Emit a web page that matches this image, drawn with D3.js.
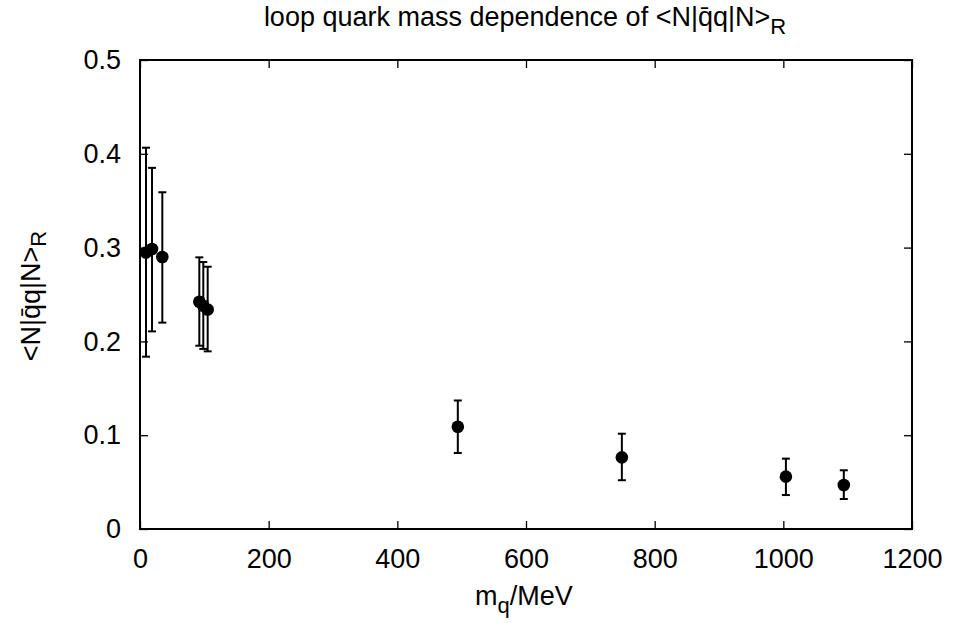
<!DOCTYPE html>
<html><head><meta charset="utf-8">
<script src="https://cdn.jsdelivr.net/npm/d3@7"></script>
<style>body{margin:0;background:#fff}svg{display:block}text{font-family:"Liberation Sans",Arial,sans-serif;fill:#000}</style>
</head><body>
<svg id="c" width="953" height="623"></svg>
<script>
const massX = [9.3, 18.7, 34.7, 92.2, 98.4, 105.2, 494, 749, 1004, 1094];
const valueY = [0.2946, 0.2985, 0.290, 0.2423, 0.238, 0.234, 0.109, 0.0764, 0.0558, 0.0469];
const errLow = [0.1837, 0.2107, 0.220, 0.1954, 0.192, 0.1894, 0.081, 0.052, 0.0362, 0.032];
const errHigh = [0.4065, 0.385, 0.359, 0.2896, 0.2846, 0.2796, 0.137, 0.1016, 0.075, 0.0626];
const xTicks = [0, 200, 400, 600, 800, 1000, 1200];
const yTicks = [0, 0.1, 0.2, 0.3, 0.4, 0.5];
const yTickLabels = ["0", "0.1", "0.2", "0.3", "0.4", "0.5"];

const svg = d3.select("#c");
const L = 140, R = 912, T = 60, B = 529;
const x = d3.scaleLinear().domain([0, 1200]).range([L, R]);
const y = d3.scaleLinear().domain([0, 0.5]).range([B, T]);
const fs = 27, sfs = 22, tl = 8;

// ticks (inward, mirrored)
const gb = svg.append("g").attr("transform", `translate(0,${B})`)
  .call(d3.axisBottom(x).tickValues(xTicks).tickSize(-tl).tickPadding(20).tickFormat(d3.format("d")));
const gt = svg.append("g").attr("transform", `translate(0,${T})`)
  .call(d3.axisTop(x).tickValues(xTicks).tickSize(-tl).tickFormat(""));
const gl = svg.append("g").attr("transform", `translate(${L},0)`)
  .call(d3.axisLeft(y).tickValues(yTicks).tickSize(-tl).tickPadding(19).tickFormat((d, i) => yTickLabels[i]));
const gr = svg.append("g").attr("transform", `translate(${R},0)`)
  .call(d3.axisRight(y).tickValues(yTicks).tickSize(-tl).tickFormat(""));
[gb, gt, gl, gr].forEach(g => {
  g.select(".domain").remove();
  g.selectAll("line").attr("stroke", "#000").attr("stroke-width", 1.3);
  g.selectAll("text").attr("font-size", fs).attr("font-family", "Liberation Sans, Arial, sans-serif").attr("fill", "#000");
});
// frame
svg.append("rect").attr("x", L).attr("y", T).attr("width", R - L).attr("height", B - T)
  .attr("fill", "none").attr("stroke", "#000").attr("stroke-width", 2);

// error bars
const data = massX.map((m, i) => ({m, v: valueY[i], lo: errLow[i], hi: errHigh[i]}));
const eb = svg.append("g").attr("stroke", "#000").attr("stroke-width", 2);
data.forEach(d => {
  eb.append("line").attr("x1", x(d.m)).attr("x2", x(d.m)).attr("y1", y(d.lo)).attr("y2", y(d.hi));
  eb.append("line").attr("x1", x(d.m) - 4).attr("x2", x(d.m) + 4).attr("y1", y(d.lo)).attr("y2", y(d.lo));
  eb.append("line").attr("x1", x(d.m) - 4).attr("x2", x(d.m) + 4).attr("y1", y(d.hi)).attr("y2", y(d.hi));
});
svg.append("g").selectAll("circle").data(data).join("circle")
  .attr("cx", d => x(d.m)).attr("cy", d => y(d.v)).attr("r", 6.3).attr("fill", "#000");

// title
const t = svg.append("text").attr("x", 525).attr("y", 26).attr("text-anchor", "middle").attr("font-size", fs);
t.append("tspan").text("loop quark mass dependence of <N|q\u0304q|N>");
t.append("tspan").attr("dy", 8).attr("font-size", sfs).text("R");

// x label
const xl = svg.append("text").attr("x", 524).attr("y", 605).attr("text-anchor", "middle").attr("font-size", fs);
xl.append("tspan").text("m");
xl.append("tspan").attr("dy", 8).attr("font-size", sfs).text("q");
xl.append("tspan").attr("dy", -8).text("/MeV");

// y label
const yl = svg.append("text").attr("transform", `translate(40,296) rotate(-90)`).attr("text-anchor", "middle").attr("font-size", fs);
yl.append("tspan").text("<N|q\u0304q|N>");
yl.append("tspan").attr("dy", 6).attr("font-size", sfs).text("R");
</script>
</body></html>
